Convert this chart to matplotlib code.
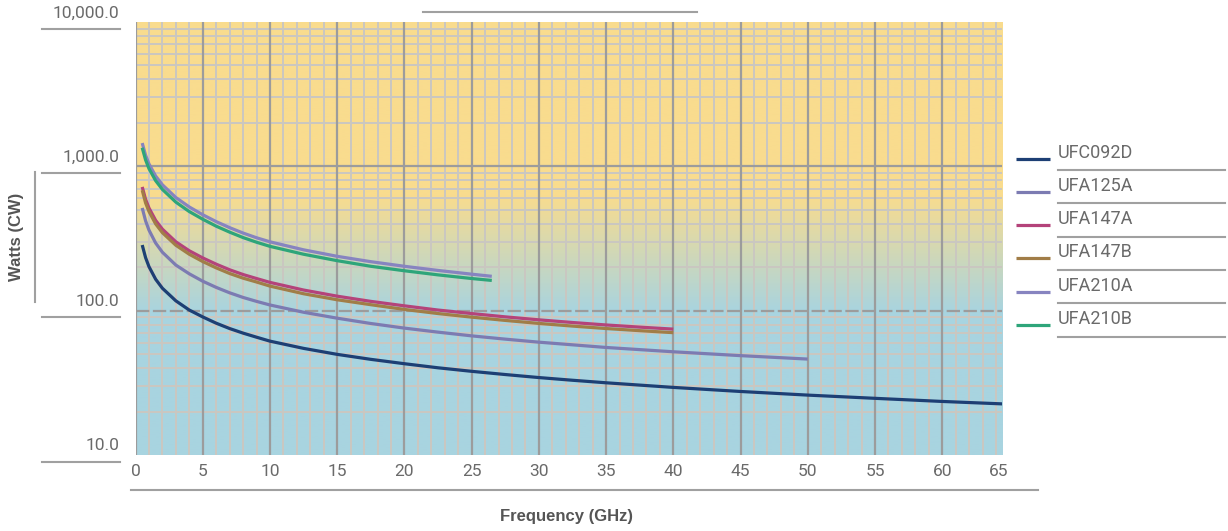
import numpy as np
import matplotlib
matplotlib.use('Agg')
import matplotlib.pyplot as plt
from matplotlib.lines import Line2D

# ---------------- data ----------------
freq_092d = [0.5, 0.75, 1, 1.5, 2, 3, 4, 5, 6, 7, 8, 9, 10, 12.5, 15, 17.5, 20, 22.5, 25, 27.5, 30, 32.5, 35, 37.5, 40, 45, 50, 55, 60, 65]
watt_092d = [285, 233, 202, 165, 143, 117, 101, 90.5, 81.9, 75.2, 69.9, 65.5, 61.5, 54.8, 49.8, 46, 42.9, 40.2, 38, 36.1, 34.4, 32.95, 31.65, 30.5, 29.4, 27.55, 26.0, 24.7, 23.5, 22.5]

freq_125a = [0.5, 0.75, 1, 1.5, 2, 3, 4, 5, 6, 7, 8, 9, 10, 12.5, 15, 17.5, 20, 22.5, 25, 27.5, 30, 35, 40, 45, 50]
watt_125a = [515, 419, 362, 294, 254, 207, 180, 160, 145, 133, 123.5, 116, 109.5, 97.5, 88.7, 81.5, 75.7, 71, 66.9, 63.5, 60.5, 55.6, 51.9, 48.8, 46.2]

freq_147a = [0.5, 0.75, 1, 1.5, 2, 3, 4, 5, 6, 7, 8, 9, 10, 12.5, 15, 17.5, 20, 22.5, 25, 27.5, 30, 32.5, 35, 37.5, 40]
watt_147a = [720, 590, 515, 422, 367, 300, 260, 232, 210, 192, 178, 167, 157, 139, 126, 116, 108, 101, 95.5, 90.6, 86.4, 82.8, 79.6, 76.9, 74.5]

freq_147b = [0.5, 0.75, 1, 1.5, 2, 3, 4, 5, 6, 7, 8, 9, 10, 12.5, 15, 17.5, 20, 22.5, 25, 27.5, 30, 32.5, 35, 37.5, 40]
watt_147b = [683, 558, 487, 399, 347, 284, 246, 219, 198, 181, 168, 158, 148, 131, 119, 110, 102, 95.5, 90.2, 85.6, 81.6, 78.2, 75.2, 72.7, 70.4]

freq_210a = [0.5, 0.75, 1, 1.5, 2, 3, 4, 5, 6, 7, 8, 9, 10, 12.5, 15, 17.5, 20, 22.5, 25, 26.5]
watt_210a = [1450, 1193, 1040, 856, 745, 608, 523, 462, 414, 376, 345, 320, 300, 264, 238, 218.5, 203, 190, 179, 173]

freq_210b = [0.5, 0.75, 1, 1.5, 2, 3, 4, 5, 6, 7, 8, 9, 10, 12.5, 15, 17.5, 20, 22.5, 25, 26.5]
watt_210b = [1345, 1108, 965, 795, 692, 565, 486, 430, 385, 350, 321, 298, 279, 246, 222, 203, 189, 177, 167, 162]

series_names = ['UFC092D', 'UFA125A', 'UFA147A', 'UFA147B', 'UFA210A', 'UFA210B']
series_freq = [freq_092d, freq_125a, freq_147a, freq_147b, freq_210a, freq_210b]
series_watt = [watt_092d, watt_125a, watt_147a, watt_147b, watt_210a, watt_210b]
series_colors = ['#1d3f74', '#7c7bb2', '#b4437a', '#a17d47', '#8784c0', '#2ea57a']

x_ticks = [0, 5, 10, 15, 20, 25, 30, 35, 40, 45, 50, 55, 60, 65]
y_decades = [10, 100, 1000, 10000]
y_labels = ['10.0', '100.0', '1,000.0', '10,000.0']

# ---------------- layout ----------------
W, H = 1228, 531
fig = plt.figure(figsize=(W / 100, H / 100), dpi=100)
fig.patch.set_facecolor('white')
L, R, T, B = 135.5, 1002, 22, 455
ax = fig.add_axes([L / W, 1 - B / H, (R - L) / W, (B - T) / H])

def fx(x):
    return x / W

def fy(y):
    return 1 - y / H

LIGHT = dict(family=['Roboto', 'DejaVu Sans'], weight='normal')
BOLD = dict(family=['Liberation Sans', 'DejaVu Sans'], weight='bold')
TXT = '#6a6a6a'
LINEC = '#a0a0a0'

# gradient background (axes fraction)
yellow = np.array([249, 220, 142]) / 255
blue = np.array([168, 212, 224]) / 255
n = 600
fr = np.linspace(0, 1, n)
lo, hi = (455 - 312) / 433, (455 - 195) / 433
t = np.clip((fr - lo) / (hi - lo), 0, 1)
img = (blue[None, :] * (1 - t[:, None]) + yellow[None, :] * t[:, None])[:, None, :]
ax.imshow(img, extent=[0, 1, 0, 1], transform=ax.transAxes, origin='lower',
          aspect='auto', zorder=0, interpolation='bilinear')

ax.set_yscale('log')
ax.set_xlim(0, 64.45)
ax.set_ylim(10, 10000)
for s in ax.spines.values():
    s.set_visible(False)
ax.set_xticks([])
ax.set_yticks([])
ax.yaxis.set_minor_locator(matplotlib.ticker.NullLocator())

minor_c = '#cac7c1'
major_c = '#9c9c9c'
for d in [10, 100, 1000]:
    for m in range(2, 10):
        ax.axhline(m * d, color=minor_c, lw=1.4, zorder=1)
for x in range(1, 65):
    if x % 5:
        ax.axvline(x, color=minor_c, lw=1.4, zorder=1)
ax.axhline(1000, color=major_c, lw=1.6, zorder=2)
ax.axhline(100, color=major_c, lw=1.6, zorder=2, linestyle=(0, (6, 1.6)))
for x in range(0, 65, 5):
    ax.axvline(x, color=major_c, lw=1.6, zorder=2)

for f, w, c in zip(series_freq, series_watt, series_colors):
    ax.plot(f, w, color=c, lw=2.3, zorder=5, solid_capstyle='butt', solid_joinstyle='round')

# ---------------- decorations ----------------
fig.canvas.draw()

def data_px(xv, yv):
    dx, dy = ax.transData.transform((xv, yv))
    return dx, H - dy

# y tick labels with underline segments
for v, lab in zip(y_decades, y_labels):
    _, py = data_px(1, v)
    fig.text(fx(119), fy(py - 9), lab, ha='right', va='center', color=TXT, fontsize=12.5, **LIGHT)
    fig.add_artist(Line2D([fx(42), fx(120)], [fy(py + 6.5), fy(py + 6.5)], color=LINEC, lw=1.5))

# x tick labels
xmax = ax.get_xlim()[1]
for tv in x_ticks:
    px_, _ = data_px(min(tv, xmax - 0.25), 10)
    fig.text(fx(px_), fy(472), str(tv), ha='center', va='center', color=TXT, fontsize=12.5, **LIGHT)

# axis lines and labels
fig.add_artist(Line2D([fx(131), fx(1038)], [fy(490), fy(490)], color=LINEC, lw=1.5))
fig.add_artist(Line2D([fx(423), fx(697)], [fy(12), fy(12)], color=LINEC, lw=1.5))
fig.add_artist(Line2D([fx(35), fx(35)], [fy(172), fy(302)], color=LINEC, lw=1.5))
fig.text(fx(567), fy(516), 'Frequency (GHz)', ha='center', va='center', color='#555555', fontsize=12, **BOLD)
fig.text(fx(17), fy(237), 'Watts (CW)', ha='center', va='center', rotation=90, color='#555555', fontsize=12, **BOLD)

# legend
leg_y0, leg_dy = 158.5, 33.3
for i, (name, c) in enumerate(zip(series_names, series_colors)):
    ly = leg_y0 + i * leg_dy
    fig.add_artist(Line2D([fx(1016), fx(1050)], [fy(ly), fy(ly)], color=c, lw=2.3, solid_capstyle='butt'))
    fig.text(fx(1058), fy(ly - 6), name, ha='left', va='center', color=TXT, fontsize=13, **LIGHT)
    fig.add_artist(Line2D([fx(1058), fx(1225)], [fy(ly + 11.5), fy(ly + 11.5)], color=LINEC, lw=1.5))

fig.savefig('out.png', dpi=100, facecolor='white')
